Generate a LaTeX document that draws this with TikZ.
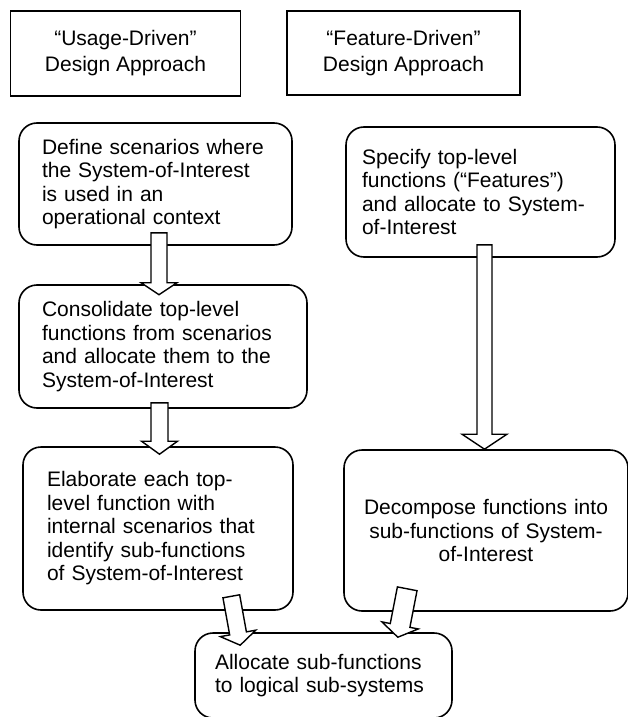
\documentclass[tikz,border=0pt]{standalone}
\usepackage{fontspec}
\setmainfont{Liberation Sans}
\usetikzlibrary{calc}
\tikzset{
  headbox/.style={draw,line width=1.4pt,align=center,inner sep=0pt,
    font=\fontsize{21pt}{26pt}\selectfont},
  stepbox/.style={draw,line width=1.6pt,rounded corners=18pt,align=left,inner ysep=0pt,
    font=\fontsize{21pt}{23.5pt}\selectfont},
  blockarrow/.style={draw,fill=white,line width=1.4pt,line join=miter}
}
% hollow arrow: from, to, half shaft, half head, head length
\newcommand{\blockarrow}[5]{%
  \coordinate (hb) at ($(#2)!#5!(#1)$);
  \draw[blockarrow]($(#1)!#3!90:(#2)$)--($(hb)!#3!-90:(#1)$)--($(hb)!#4!-90:(#1)$)--(#2)
    --($(hb)!#4!90:(#1)$)--($(hb)!#3!90:(#1)$)--($(#1)!#3!-90:(#2)$)--cycle;
}

\begin{document}
\begin{tikzpicture}[x=1pt,y=-1pt]
\useasboundingbox(0,0)rectangle(627,717);
%headers
\node[headbox,minimum width=230pt,minimum height=85pt](usage)at(125.5,53.5){“Usage-Driven”\\Design Approach};
\node[headbox,minimum width=233pt,minimum height=84pt](feature)at(403.5,53){“Feature-Driven”\\Design Approach};
%usage-driven column
\node[stepbox,text width=227pt,inner xsep=23pt,minimum height=122pt](define)at(155.5,184)
  {Define scenarios where\\the System-of-Interest\\is used in an\\operational context};
\node[stepbox,text width=242pt,inner xsep=23pt,minimum height=123pt](consolidate)at(163,346.5)
  {Consolidate top-level\\functions from scenarios\\and allocate them to the\\System-of-Interest};
\node[stepbox,text width=222pt,inner xsep=24pt,minimum height=163pt](elaborate)at(158,528.5)
  {Elaborate each top-\\level function with\\internal scenarios that\\identify sub-functions\\of System-of-Interest};
%feature-driven column
\node[stepbox,text width=237pt,inner xsep=16pt,minimum height=130pt](specify)at(480.5,192)
  {Specify top-level\\functions (“Features”)\\and allocate to System-\\of-Interest};
\node[stepbox,align=center,text width=252pt,inner xsep=16pt,minimum height=161pt](decompose)at(486,530.5)
  {Decompose functions into\\sub-functions of System-\\of-Interest};
%common step
\node[stepbox,text width=217pt,inner xsep=20pt,minimum height=85pt](alloc)at(323.5,675.5)
  {Allocate sub-functions\\to logical sub-systems};
%arrows
\coordinate(ab1)at([xshift=3.5pt,yshift=13pt]define.south);
\coordinate(ab2)at([xshift=-4pt,yshift=-10.5pt]consolidate.north);
\blockarrow{ab1}{ab2}{8pt}{18pt}{12pt}
\coordinate(bc1)at([xshift=-3.5pt,yshift=6pt]consolidate.south);
\coordinate(bc2)at([xshift=1.5pt,yshift=-8pt]elaborate.north);
\blockarrow{bc1}{bc2}{8.5pt}{18pt}{13pt}
\coordinate(de1)at([xshift=4pt,yshift=13pt]specify.south);
\coordinate(de2)at([xshift=-1.5pt]decompose.north);
\blockarrow{de1}{de2}{7.5pt}{22.5pt}{15pt}
\coordinate(cf1)at([xshift=-62.5pt,yshift=14.5pt]elaborate.south east);
\coordinate(cf2)at([xshift=46pt,yshift=-13pt]alloc.north west);
\blockarrow{cf1}{cf2}{8.5pt}{18pt}{12pt}
\coordinate(ef1)at([xshift=64pt,yshift=23pt]decompose.south west);
\coordinate(ef2)at([xshift=-55pt,yshift=-5pt]alloc.north east);
\blockarrow{ef1}{ef2}{10pt}{18.5pt}{12pt}
\end{tikzpicture}
\end{document}
